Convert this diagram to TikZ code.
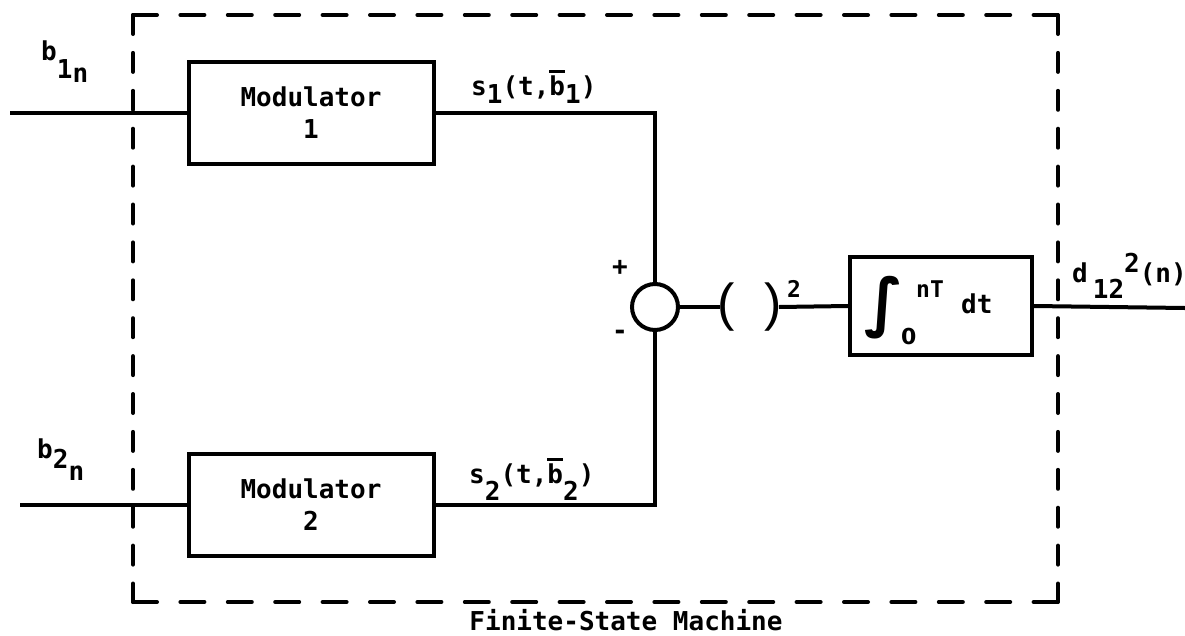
\documentclass[tikz,border=0pt]{standalone}
\usepackage{fontspec}
\usetikzlibrary{positioning}
\newfontfamily\typefont{DejaVu Sans Mono}
\newfontfamily\symfont{DejaVu Sans}
\newfontfamily\parenfont{Liberation Sans}
\newcommand\lowered[2]{\raisebox{-#1}{#2}}
\newcommand\overbar[1]{\vbox{\hrule height 2.6pt\kern2.2pt\hbox{#1}}}
\tikzset{
  blk/.style={draw=black,line width=4pt,minimum width=245pt,minimum height=102pt,
    inner sep=0pt,align=center,font=\typefont\bfseries\fontsize{26}{32}\selectfont},
  sig/.style={draw=black,line width=4pt},
  sumnode/.style={circle,draw=black,line width=4pt,minimum size=46pt,inner sep=0pt},
  fsmbox/.style={inner sep=0pt,outer sep=0pt,minimum width=925pt,minimum height=587pt},
  hdash/.style={draw=black,line width=4pt,line cap=round,dash pattern=on 24pt off 23.4pt},
  vdash/.style={draw=black,line width=4pt,line cap=round,dash pattern=on 19pt off 18.9pt},
  lbl/.style={inner sep=0pt,font=\typefont\bfseries\fontsize{26}{30}\selectfont},
  smalllbl/.style={inner sep=0pt,font=\typefont\bfseries\fontsize{23}{26}\selectfont},
  paren/.style={inner sep=0pt,font=\parenfont\fontsize{52}{52}\selectfont}
}

\begin{document}
\begin{tikzpicture}[x=1pt,y=-1pt]
  \useasboundingbox (0,0) rectangle (1185,635);
  % dashed enclosure
  \node[fsmbox] (fsm) at (595.5,308.5) {};
  \draw[hdash] (fsm.north west) -- (fsm.north east);
  \draw[hdash] (fsm.south west) -- (fsm.south east);
  \draw[vdash] (fsm.north west) -- (fsm.south west);
  \draw[vdash] (fsm.north east) -- (fsm.south east);
  \node[lbl,anchor=base] (fsmname) at (626,630) {Finite-State Machine};

  \node[blk] (mod1) at (311,113) {Modulator\\1};
  \node[blk] (mod2) at (311,505) {Modulator\\2};
  \node[sumnode] (sum) at (655,307) {};
  \node[blk,minimum width=182pt,minimum height=98pt] (int) at (941,306) {};

  \coordinate (in1) at (10,113);
  \coordinate (in2) at (20,505);
  \coordinate (out) at (1185,308);

  \node[paren] (lpar) at (726,307) {(};
  \node[paren] (rpar) at (773,307) {)};
  \node[smalllbl,anchor=base west] (sqexp) at (787,297) {2};

  \draw[sig] (in1) -- (mod1.west);
  \draw[sig] (in2) -- (mod2.west);
  \draw[sig] (mod1.east) -| (sum.north);
  \draw[sig] (mod2.east) -| (sum.south);
  \draw[sig] (sum.east) -- ([xshift=3pt]lpar.west);
  \draw[sig] ([xshift=-3pt]rpar.east) -- (int.west);
  \draw[sig] (int.east) -- (out);

  \node[lbl,anchor=base west] (b1lab) at (41,60)
    {b\lowered{18pt}{1}\lowered{22pt}{n}};
  \node[lbl,anchor=base west] (b2lab) at (37,458)
    {b\lowered{10pt}{2}\lowered{22pt}{n}};
  \node[lbl,anchor=base west] (s1lab) at (471,95)
    {s\lowered{8pt}{1}(t,\overbar{b}\lowered{8pt}{1})};
  \node[lbl,anchor=base west] (s2lab) at (469,483)
    {s\lowered{17pt}{2}(t,\overbar{b}\lowered{17pt}{2})};
  \node[lbl] (plus) at (620,268) {+};
  \node[lbl] (minus) at (620,335) {-};

  \node[inner sep=0pt,font=\symfont\bfseries\fontsize{64}{64}\selectfont]
    (intsign) at (884,308) {∫};
  \node[inner sep=0pt,anchor=base west,font=\symfont\bfseries\fontsize{22}{24}\selectfont]
    (intlow) at (901,344) {0};
  \node[smalllbl,anchor=base west] (intup) at (916,297) {nT};
  \node[lbl,anchor=base west] (intdt) at (961,313) {dt};
  \node[lbl,anchor=base west] (dlab) at (1072,282)
    {d\kern5pt\lowered{16pt}{12}\raisebox{10pt}{2}(n)};
\end{tikzpicture}
\end{document}
